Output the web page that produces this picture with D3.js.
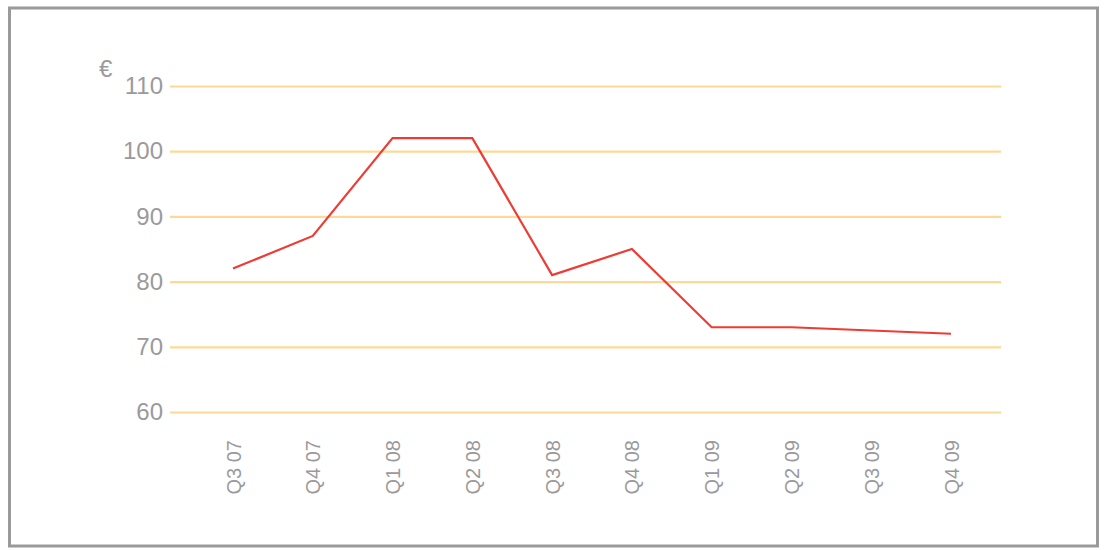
<!DOCTYPE html>
<html><head><meta charset="utf-8">
<script src="https://cdn.jsdelivr.net/npm/d3@7"></script>
<style>body{margin:0;background:#fff;font-family:"Liberation Sans",Arial,sans-serif;}</style>
</head><body><svg id="c" width="1104" height="550"></svg>
<script>
const categories = ["Q3 07","Q4 07","Q1 08","Q2 08","Q3 08","Q4 08","Q1 09","Q2 09","Q3 09","Q4 09"];
const values = [82, 87, 102, 102, 81, 85, 73, 73, 72.5, 72];
const yTicks = [60, 70, 80, 90, 100, 110];
const unitLabel = "€";

const svg = d3.select("#c");
svg.append("rect").attr("x",9.5).attr("y",8).attr("width",1088).attr("height",538)
  .attr("fill","#fff").attr("stroke","#9a9a9c").attr("stroke-width",3);

const x = d3.scalePoint().domain(categories).range([233, 951]);
const y = d3.scaleLinear().domain([60, 110]).range([412, 86]);

const yAxis = d3.axisLeft(y).tickValues(yTicks).tickSize(-831).tickPadding(7);
const gy = svg.append("g").attr("transform","translate(170,0)").call(yAxis);
gy.select(".domain").remove();
gy.selectAll(".tick line").attr("stroke","#fed995").attr("stroke-width",2.2);
gy.selectAll(".tick text").attr("fill","#9a9a9c").attr("font-size",24)
  .attr("font-family","'Liberation Sans',Arial,sans-serif");

svg.append("text").attr("x",99).attr("y",77).text(unitLabel)
  .attr("fill","#9a9a9c").attr("font-size",24).attr("font-family","'Liberation Sans',Arial,sans-serif");

const xAxis = d3.axisBottom(x).tickSize(0).tickPadding(0);
const gx = svg.append("g").attr("transform","translate(0,440)").call(xAxis);
gx.select(".domain").remove();
gx.selectAll(".tick text").attr("fill","#9a9a9c").attr("font-size",20)
  .attr("font-family","'Liberation Sans',Arial,sans-serif")
  .attr("text-anchor","end").attr("transform","rotate(-90)")
  .attr("x",0).attr("y",0).attr("dy","0.35em");

const line = d3.line().x((d,i)=>x(categories[i])).y(d=>y(d));
svg.append("path").datum(values).attr("d",line).attr("fill","none")
  .attr("stroke","#ee3b33").attr("stroke-width",2.2).attr("stroke-linejoin","miter");
</script></body></html>
